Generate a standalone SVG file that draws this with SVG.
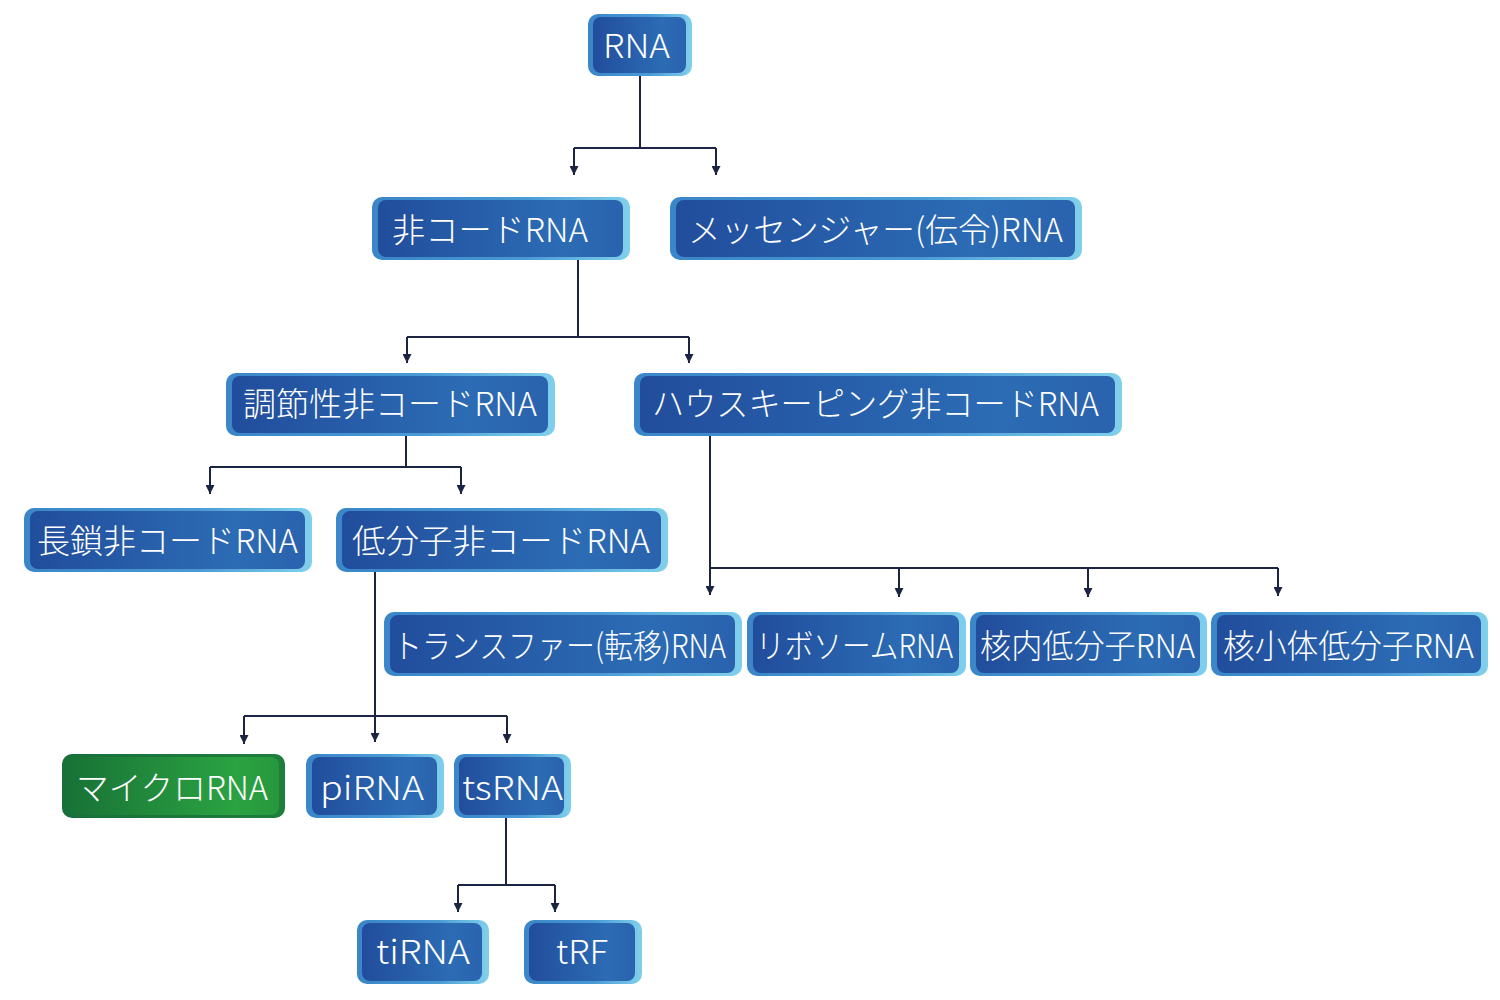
<svg xmlns="http://www.w3.org/2000/svg" width="1500" height="1000" viewBox="0 0 1500 1000">
<defs>
<linearGradient id="gOut" x1="0" y1="0" x2="1" y2="0">
<stop offset="0" stop-color="#3a86c8"/><stop offset="0.6" stop-color="#4a9ad6"/><stop offset="1" stop-color="#80d0ec"/>
</linearGradient>
<linearGradient id="gIn" x1="0" y1="0" x2="1" y2="0">
<stop offset="0" stop-color="#214d9c"/><stop offset="0.75" stop-color="#2c6cb5"/><stop offset="1" stop-color="#2a62ae"/>
</linearGradient>
<linearGradient id="gOutG" x1="0" y1="0" x2="1" y2="0">
<stop offset="0" stop-color="#17703a"/><stop offset="1" stop-color="#1f7e3c"/>
</linearGradient>
<linearGradient id="gInG" x1="0" y1="0" x2="1" y2="0">
<stop offset="0" stop-color="#187236"/><stop offset="0.8" stop-color="#2ba342"/><stop offset="1" stop-color="#27973e"/>
</linearGradient>
<marker id="arr" viewBox="0 0 10 10" refX="10" refY="5" markerWidth="10" markerHeight="9" markerUnits="userSpaceOnUse" orient="auto">
<path d="M0,0 L10,5 L0,10 Z" fill="#1b2442"/>
</marker>
</defs>
<style>
.o{fill:url(#gOut)}
.i{fill:url(#gIn)}
.og{fill:url(#gOutG)}
.ig{fill:url(#gInG)}
text{font-family:"Noto Sans CJK JP","Noto Sans",sans-serif;font-size:33px;font-weight:300;fill:#ffffff;text-anchor:start}
.c path{fill:none;stroke:#1b2442;stroke-width:2}
.c .a{marker-end:url(#arr)}
</style>
<g class="c" id="connectors">
<path d="M640,76 V148 M574,148 H716"/>
<path class="a" d="M574,148 V175"/>
<path class="a" d="M716,148 V175"/>
<path d="M578,260 V337 M407,337 H689"/>
<path class="a" d="M407,337 V363"/>
<path class="a" d="M689,337 V363"/>
<path d="M406,436 V467 M210,467 H461"/>
<path class="a" d="M210,467 V494"/>
<path class="a" d="M461,467 V494"/>
<path d="M710,436 V568 H1278"/>
<path class="a" d="M710,568 V595"/>
<path class="a" d="M899,568 V597"/>
<path class="a" d="M1088,568 V597"/>
<path class="a" d="M1278,568 V596"/>
<path d="M375,572 V716 M244,716 H507"/>
<path class="a" d="M375,716 V742"/>
<path class="a" d="M244,716 V744"/>
<path class="a" d="M507,716 V743"/>
<path d="M506,818 V885 M458,885 H555"/>
<path class="a" d="M458,885 V912"/>
<path class="a" d="M555,885 V912"/>
</g>
<g id="n-rna"><rect class="o" x="588" y="14" width="104" height="62" rx="10"/><rect class="i" x="593" y="17" width="93" height="56" rx="8"/><text x="603" y="58" textLength="67" lengthAdjust="spacingAndGlyphs">RNA</text></g>
<g id="n-ncrna"><rect class="o" x="372" y="197" width="258" height="63" rx="10"/><rect class="i" x="378" y="200" width="245" height="57" rx="8"/><text x="392" y="242" textLength="196" lengthAdjust="spacingAndGlyphs">非コードRNA</text></g>
<g id="n-mrna"><rect class="o" x="670" y="197" width="412" height="63" rx="10"/><rect class="i" x="676" y="200" width="399" height="57" rx="8"/><text x="688" y="242" textLength="375" lengthAdjust="spacingAndGlyphs">メッセンジャー(伝令)RNA</text></g>
<g id="n-reg"><rect class="o" x="226" y="373" width="329" height="63" rx="10"/><rect class="i" x="232" y="376" width="316" height="57" rx="8"/><text x="243" y="416" textLength="294" lengthAdjust="spacingAndGlyphs">調節性非コードRNA</text></g>
<g id="n-hk"><rect class="o" x="634" y="373" width="488" height="63" rx="10"/><rect class="i" x="640" y="376" width="475" height="57" rx="8"/><text x="652" y="416" textLength="447" lengthAdjust="spacingAndGlyphs">ハウスキーピング非コードRNA</text></g>
<g id="n-lnc"><rect class="o" x="24" y="508" width="288" height="64" rx="10"/><rect class="i" x="30" y="511" width="275" height="58" rx="8"/><text x="37" y="553" textLength="261" lengthAdjust="spacingAndGlyphs">長鎖非コードRNA</text></g>
<g id="n-snc"><rect class="o" x="336" y="508" width="332" height="64" rx="10"/><rect class="i" x="342" y="511" width="319" height="58" rx="8"/><text x="352" y="553" textLength="298" lengthAdjust="spacingAndGlyphs">低分子非コードRNA</text></g>
<g id="n-trna"><rect class="o" x="384" y="612" width="358" height="64" rx="10"/><rect class="i" x="390" y="615" width="345" height="58" rx="8"/><text x="393" y="658" textLength="333" lengthAdjust="spacingAndGlyphs">トランスファー(転移)RNA</text></g>
<g id="n-rrna"><rect class="o" x="747" y="612" width="219" height="64" rx="10"/><rect class="i" x="753" y="615" width="206" height="58" rx="8"/><text x="756" y="658" textLength="197" lengthAdjust="spacingAndGlyphs">リボソームRNA</text></g>
<g id="n-snrna"><rect class="o" x="970" y="612" width="237" height="64" rx="10"/><rect class="i" x="976" y="615" width="224" height="58" rx="8"/><text x="980" y="658" textLength="215" lengthAdjust="spacingAndGlyphs">核内低分子RNA</text></g>
<g id="n-snorna"><rect class="o" x="1211" y="612" width="277" height="64" rx="10"/><rect class="i" x="1217" y="615" width="264" height="58" rx="8"/><text x="1223" y="658" textLength="251" lengthAdjust="spacingAndGlyphs">核小体低分子RNA</text></g>
<g id="n-mirna"><rect class="og" x="62" y="754" width="223" height="64" rx="10"/><rect class="ig" x="67" y="757" width="212" height="58" rx="8"/><text x="76" y="800" textLength="192" lengthAdjust="spacingAndGlyphs">マイクロRNA</text></g>
<g id="n-pirna"><rect class="o" x="306" y="754" width="138" height="64" rx="10"/><rect class="i" x="312" y="757" width="125" height="58" rx="8"/><text x="320" y="800" textLength="104" lengthAdjust="spacingAndGlyphs">piRNA</text></g>
<g id="n-tsrna"><rect class="o" x="454" y="754" width="117" height="64" rx="10"/><rect class="i" x="459" y="757" width="105" height="58" rx="8"/><text x="462" y="800" textLength="101" lengthAdjust="spacingAndGlyphs">tsRNA</text></g>
<g id="n-tirna"><rect class="o" x="357" y="920" width="132" height="64" rx="10"/><rect class="i" x="362" y="923" width="120" height="58" rx="8"/><text x="376" y="964" textLength="94" lengthAdjust="spacingAndGlyphs">tiRNA</text></g>
<g id="n-trf"><rect class="o" x="524" y="920" width="118" height="64" rx="10"/><rect class="i" x="529" y="923" width="106" height="58" rx="8"/><text x="556" y="964" textLength="52" lengthAdjust="spacingAndGlyphs">tRF</text></g>
</svg>
